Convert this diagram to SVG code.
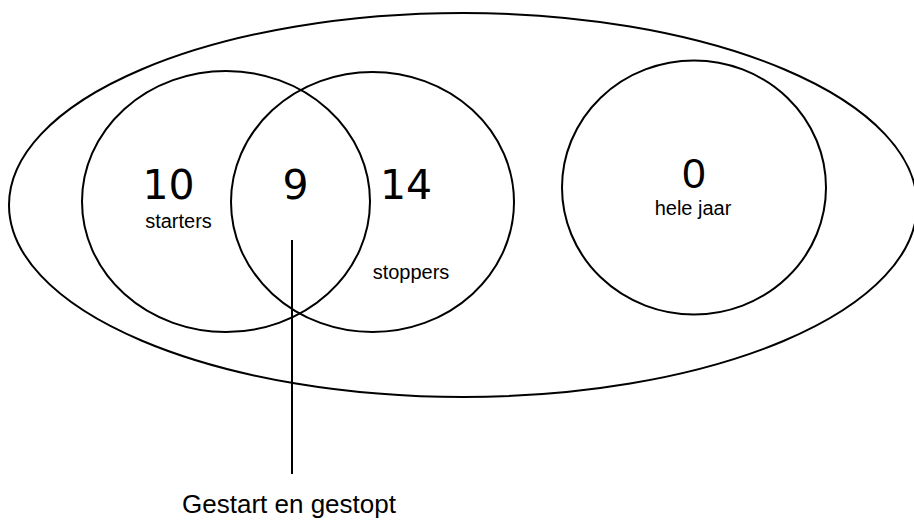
<svg xmlns="http://www.w3.org/2000/svg" width="914" height="521" viewBox="0 0 914 521">
<style>
.shape{fill:none;stroke:#000;stroke-width:2}
.num{font-family:"DejaVu Sans",Verdana,sans-serif;font-size:41px;fill:#000;text-anchor:middle}
.num0{font-family:"Liberation Sans",Arial,sans-serif;font-size:42px;fill:#000;text-anchor:middle}
.lbl{font-family:"Liberation Sans",Arial,sans-serif;font-size:20px;fill:#000;text-anchor:middle}
.cap{font-family:"Liberation Sans",Arial,sans-serif;font-size:26px;fill:#000;text-anchor:middle}
</style>
<rect width="914" height="521" fill="#fff"/>
<g id="all">
<ellipse class="shape" cx="463" cy="205" rx="454" ry="192"/>
</g>
<g id="starters">
<ellipse class="shape" cx="226" cy="201.5" rx="144" ry="130.5"/>
<text class="num" x="168.5" y="199">10</text>
<text class="lbl" x="178.5" y="228">starters</text>
</g>
<g id="stoppers">
<ellipse class="shape" cx="372.5" cy="202" rx="141.5" ry="130"/>
<text class="num" x="406" y="199">14</text>
<text class="lbl" x="411" y="279">stoppers</text>
</g>
<g id="overlap">
<text class="num" x="295.5" y="199">9</text>
</g>
<g id="heleJaar">
<ellipse class="shape" cx="694" cy="187.5" rx="132" ry="127"/>
<text class="num0" x="694" y="188">0</text>
<text class="lbl" x="693" y="215">hele jaar</text>
</g>
<g id="connectors">
<line x1="292" y1="240" x2="292" y2="474" stroke="#000" stroke-width="2"/>
</g>
<g id="label">
<text class="cap" x="289" y="513">Gestart en gestopt</text>
</g>
</svg>
